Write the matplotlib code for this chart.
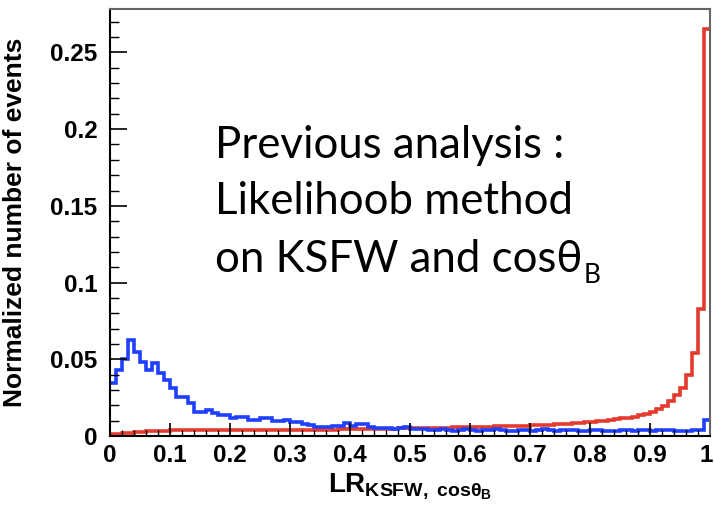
import numpy as np
import matplotlib
matplotlib.use("Agg")
import matplotlib.pyplot as plt
import matplotlib.transforms as mtransforms
from matplotlib.ticker import MultipleLocator, FuncFormatter

# ---- data (normalized bin contents, 100 bins from 0 to 1) ----
bin_edges = np.linspace(0.0, 1.0, 101)

background_blue = [
    0.0345, 0.0430, 0.0505, 0.0625, 0.0550, 0.0485, 0.0430, 0.0473, 0.0408, 0.0365,
    0.0310, 0.0256, 0.0256, 0.0213, 0.0158, 0.0158, 0.0170, 0.0148, 0.0137, 0.0137,
    0.0115, 0.0126, 0.0126, 0.0104, 0.0104, 0.0115, 0.0115, 0.0098, 0.0098, 0.0104,
    0.0090, 0.0090, 0.0078, 0.0072, 0.0058, 0.0060, 0.0058, 0.0062, 0.0068, 0.0085,
    0.0062, 0.0075, 0.0075, 0.0060, 0.0052, 0.0050, 0.0052, 0.0048, 0.0050, 0.0058,
    0.0045, 0.0048, 0.0045, 0.0042, 0.0040, 0.0048, 0.0040, 0.0035, 0.0038, 0.0045,
    0.0040, 0.0035, 0.0038, 0.0042, 0.0048, 0.0040, 0.0035, 0.0032, 0.0038, 0.0040,
    0.0035, 0.0040, 0.0045, 0.0038, 0.0035, 0.0040, 0.0042, 0.0040, 0.0035, 0.0032,
    0.0036, 0.0040, 0.0035, 0.0030, 0.0035, 0.0040, 0.0038, 0.0035, 0.0040, 0.0036,
    0.0032, 0.0038, 0.0040, 0.0036, 0.0030, 0.0032, 0.0035, 0.0038, 0.0040, 0.0102,
]

signal_red = [
    0.0010, 0.0014, 0.0018, 0.0022, 0.0025, 0.0028, 0.0030, 0.0032, 0.0034, 0.0035,
    0.0036, 0.0037, 0.0038, 0.0038, 0.0038, 0.0039, 0.0039, 0.0038, 0.0039, 0.0039,
    0.0039, 0.0040, 0.0039, 0.0040, 0.0040, 0.0040, 0.0039, 0.0040, 0.0040, 0.0041,
    0.0040, 0.0041, 0.0041, 0.0041, 0.0042, 0.0041, 0.0042, 0.0042, 0.0043, 0.0043,
    0.0043, 0.0044, 0.0044, 0.0045, 0.0045, 0.0046, 0.0047, 0.0048, 0.0049, 0.0050,
    0.0051, 0.0052, 0.0052, 0.0053, 0.0054, 0.0054, 0.0055, 0.0056, 0.0057, 0.0058,
    0.0059, 0.0060, 0.0060, 0.0061, 0.0062, 0.0063, 0.0064, 0.0065, 0.0066, 0.0068,
    0.0069, 0.0070, 0.0072, 0.0074, 0.0076, 0.0078, 0.0080, 0.0082, 0.0085, 0.0088,
    0.0092, 0.0096, 0.0100, 0.0105, 0.0110, 0.0115, 0.0120, 0.0127, 0.0136, 0.0146,
    0.0158, 0.0175, 0.0198, 0.0230, 0.0267, 0.0310, 0.0400, 0.0540, 0.0830, 0.2650,
]

x_ticks = [0.0, 0.1, 0.2, 0.3, 0.4, 0.5, 0.6, 0.7, 0.8, 0.9, 1.0]
y_ticks = [0.0, 0.05, 0.10, 0.15, 0.20, 0.25]

# ---- style ----
plt.rcParams['mathtext.fontset'] = 'custom'
plt.rcParams['mathtext.rm'] = 'Liberation Sans:bold'
plt.rcParams['mathtext.it'] = 'Liberation Sans:bold'
plt.rcParams['mathtext.bf'] = 'Liberation Sans:bold'

W, H = 714, 513
fig = plt.figure(figsize=(W/100, H/100), dpi=100)
ax = fig.add_axes([110/W, 1-436/H, 600/W, 427/H])

ax.stairs(signal_red, bin_edges, color='#e53a2e', lw=2.6, baseline=None)
ax.stairs(background_blue, bin_edges, color='#1f40ff', lw=2.6, baseline=None)

ax.set_xlim(0, 1)
ax.set_ylim(0, 0.2783)

ax.set_xticks(x_ticks)
ax.set_yticks(y_ticks)
ax.xaxis.set_minor_locator(MultipleLocator(0.02))
ax.yaxis.set_minor_locator(MultipleLocator(0.01))

def fmt(v, pos):
    return f"{v:.2f}".rstrip('0').rstrip('.')
ax.xaxis.set_major_formatter(FuncFormatter(fmt))
ax.yaxis.set_major_formatter(FuncFormatter(fmt))

ax.tick_params(axis='x', which='major', direction='in', length=9.5, width=1.2, pad=6,
               top=False, bottom=True)
ax.tick_params(axis='x', which='minor', direction='in', length=4.5, width=1.0,
               top=False, bottom=True)
ax.tick_params(axis='y', which='major', direction='in', length=12.5, width=1.2, pad=9,
               left=True, right=False)
ax.tick_params(axis='y', which='minor', direction='in', length=6.5, width=1.0,
               left=True, right=False)

for lab in ax.get_xticklabels() + ax.get_yticklabels():
    lab.set_fontfamily('Liberation Sans')
    lab.set_fontweight('bold')
    lab.set_fontsize(17.5)

for side in ['left', 'bottom']:
    ax.spines[side].set_color('black')
    ax.spines[side].set_linewidth(1.5)
for side in ['top', 'right']:
    ax.spines[side].set_color('#666666')
    ax.spines[side].set_linewidth(1.5)

ax.set_ylabel('Normalized number of events', fontfamily='Liberation Sans',
              fontweight='bold', fontsize=19)
ax.yaxis.set_label_coords(-(110-27)/600, 0.5)
ax.set_xlabel(r'$LR_{KSFW,\ cos\theta_{B}}$', fontsize=20, labelpad=3)

# ---- annotation text ----
fam = ['Lato', 'DejaVu Sans']
fs = 31.5
fig.text(215/W, 1-158/H, 'Previous analysis :', family=fam, fontsize=fs,
         va='baseline', ha='left')
fig.text(215/W, 1-214/H, 'Likelihoob method', family=fam, fontsize=fs,
         va='baseline', ha='left')
t3 = fig.text(215/W, 1-272/H, 'on KSFW and cos\u03b8', family=fam, fontsize=fs,
              va='baseline', ha='left')
renderer = fig.canvas.get_renderer()
bb = t3.get_window_extent(renderer=renderer)
fig.text(bb.x1/W + 1/W, 1-283/H, 'B', family=fam, fontsize=19,
         va='baseline', ha='left')

# nudge the last x tick label ("1") so it stays inside the canvas
last_tick = ax.xaxis.get_major_ticks()[-1]
last_tick.label1.set_transform(last_tick.label1.get_transform() +
                               mtransforms.ScaledTranslation(-4/100, 0, fig.dpi_scale_trans))

fig.savefig('out.png', dpi=100)
